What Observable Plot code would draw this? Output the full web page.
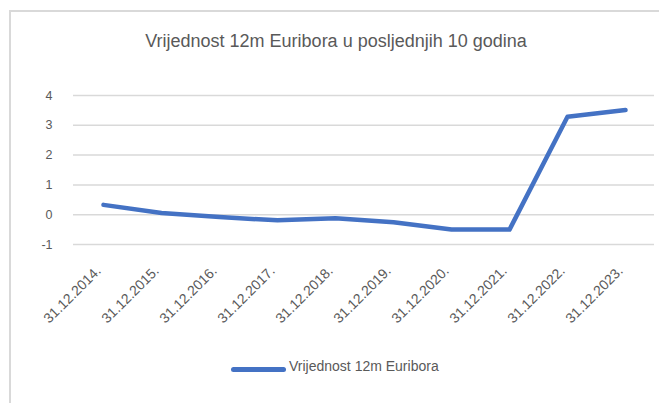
<!DOCTYPE html>
<html>
<head>
<meta charset="utf-8">
<script src="https://cdn.jsdelivr.net/npm/d3@7"></script>
<script src="https://cdn.jsdelivr.net/npm/@observablehq/plot@0.6"></script>
<style>
  html, body { margin: 0; padding: 0; background: #fff; overflow: hidden; }
  #wrap { position: relative; width: 659px; height: 403px; overflow: hidden; font-family: "Liberation Sans", Arial, sans-serif; color: #595959; }
  #frame { position: absolute; left: 9px; top: 10px; width: 700px; height: 450px; border: 2px solid #d9d9d9; box-sizing: border-box; }
  #title { position: absolute; left: 0; width: 672px; top: 30px; text-align: center; font-size: 18px; line-height: 22px; }
  #legend { position: absolute; left: 231px; top: 358px; display: flex; align-items: center; font-size: 14px; }
  #legend .sw { width: 55px; height: 5px; border-radius: 3px; background: #4472c4; margin-right: 3px; margin-top: 6px; }
  #chart { position: absolute; left: 0; top: 0; }
</style>
</head>
<body>
<div id="wrap">
  <div id="frame"></div>
  <div id="chart"></div>
  <div id="title">Vrijednost 12m Euribora u posljednjih 10 godina</div>
  <div id="legend"><div class="sw"></div><span>Vrijednost 12m Euribora</span></div>
</div>
<script>
const dates = ["31.12.2014.", "31.12.2015.", "31.12.2016.", "31.12.2017.", "31.12.2018.",
               "31.12.2019.", "31.12.2020.", "31.12.2021.", "31.12.2022.", "31.12.2023."];
const euribor12m = [0.33, 0.06, -0.08, -0.19, -0.12, -0.25, -0.50, -0.50, 3.29, 3.51];
const yTicks = [-1, 0, 1, 2, 3, 4];

const data = dates.map((d, i) => ({date: d, value: euribor12m[i]}));

const chart = Plot.plot({
  width: 659,
  height: 403,
  marginLeft: 73,
  marginRight: 5,
  marginTop: 95,
  marginBottom: 159,
  style: {fontFamily: "Liberation Sans, Arial, sans-serif", fontSize: "12.5px", color: "#595959", background: "transparent"},
  x: {type: "point", domain: dates, padding: 0.5, label: null},
  y: {domain: [-1, 4], label: null},
  marks: [
    Plot.gridY(yTicks, {stroke: "#d9d9d9", strokeOpacity: 1, strokeWidth: 1.5}),
    Plot.axisY(yTicks, {tickSize: 0, tickPadding: 21, label: null, fill: "#595959", fontSize: 12.5, tickFormat: d => String(d)}),
    Plot.axisX({tickSize: 0, tickPadding: 24, dx: -5, tickRotate: -45, label: null, fill: "#595959", fontSize: 14}),
    Plot.line(data, {x: "date", y: "value", stroke: "#4472c4", strokeWidth: 4.5, strokeLinecap: "round", strokeLinejoin: "round"})
  ]
});
document.getElementById("chart").appendChild(chart);
</script>
</body>
</html>
